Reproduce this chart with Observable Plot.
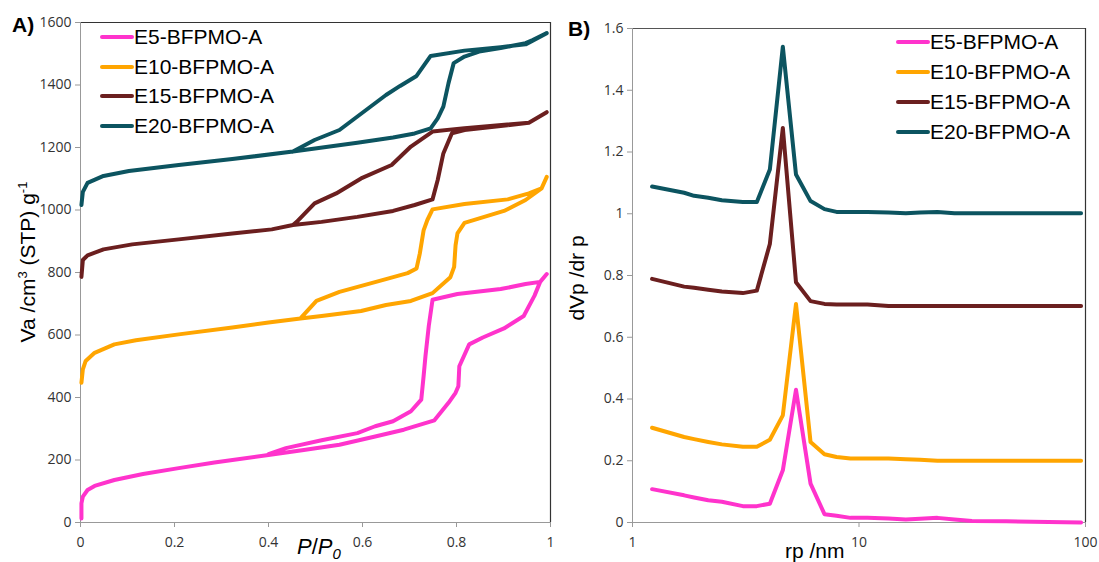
<!DOCTYPE html>
<html>
<head>
<meta charset="utf-8">
<script src="https://cdn.jsdelivr.net/npm/d3@7"></script>
<script src="https://cdn.jsdelivr.net/npm/@observablehq/plot@0.6"></script>
<style>
  body { margin: 0; background: #fff; }
  #wrap { position: relative; width: 1099px; height: 562px; overflow: hidden; font-family: "Liberation Sans", Arial, sans-serif; }
  .panel { position: absolute; top: 0; }
  .lbl { position: absolute; color: #000; white-space: nowrap; }
  .legend { position: absolute; font-size: 21px; color: #000; }
  .legend .row { position: absolute; left: 0; white-space: nowrap; height: 0; }
  .legend .sw { position: absolute; left: 0; width: 34px; height: 4px; margin-top: -2px; border-radius: 2px; }
  .legend .tx { position: absolute; left: 34px; top: -12px; line-height: 24px; }
</style>
</head>
<body>
<div id="wrap"></div>
<script>
// ---- Series names and colours ----
const seriesNames = ["E5-BFPMO-A", "E10-BFPMO-A", "E15-BFPMO-A", "E20-BFPMO-A"];
const seriesColors = ["#ff33cc", "#ffa500", "#6b1f1f", "#0c5460"];

// ---- Panel A: isotherms (path order: adsorption then desorption) ----
const e5P = [0.002,0.002,0.005,0.015,0.03,0.072,0.133,0.209,0.285,0.4,0.475,0.551,0.627,0.688,0.753,0.783,0.798,0.804,0.806,0.827,0.856,0.901,0.943,0.966,0.978,0.992,0.978,0.947,0.894,0.802,0.749,0.741,0.734,0.73,0.725,0.703,0.665,0.627,0.589,0.513,0.437,0.4];
const e5V = [13,61,83,104,117,136,155,174,192,216,232,249,275,297,327,383,415,436,500,570,592,621,661,726,770,795,770,763,747,731,713,629,533,468,393,356,324,308,286,263,238,219];

const e10P = [0.002,0.005,0.011,0.03,0.072,0.118,0.209,0.323,0.4,0.468,0.513,0.597,0.65,0.703,0.749,0.787,0.795,0.798,0.802,0.817,0.901,0.947,0.981,0.992,0.981,0.954,0.909,0.817,0.749,0.738,0.73,0.722,0.715,0.696,0.65,0.551,0.502,0.468];
const e10V = [447,490,517,543,570,583,602,624,640,653,661,677,696,709,734,785,818,887,925,959,997,1032,1069,1106,1069,1053,1034,1019,1002,968,935,861,813,798,779,738,709,653];

const e15P = [0.002,0.005,0.015,0.049,0.11,0.209,0.323,0.407,0.452,0.513,0.589,0.665,0.711,0.749,0.76,0.772,0.79,0.817,0.894,0.954,0.992,0.954,0.817,0.749,0.703,0.662,0.597,0.544,0.498,0.46,0.452];
const e15V = [786,840,855,874,890,906,925,938,952,962,978,997,1016,1034,1096,1181,1245,1256,1269,1279,1313,1279,1262,1251,1203,1144,1101,1053,1021,962,952];

const e20P = [0.002,0.005,0.015,0.049,0.103,0.209,0.323,0.452,0.589,0.665,0.711,0.745,0.76,0.772,0.783,0.794,0.817,0.848,0.894,0.947,0.962,0.992,0.947,0.894,0.817,0.745,0.715,0.68,0.65,0.551,0.498,0.452];
const e20V = [1016,1058,1087,1109,1125,1144,1163,1187,1215,1232,1245,1261,1293,1331,1406,1470,1491,1507,1518,1534,1544,1566,1530,1521,1510,1493,1429,1397,1368,1256,1224,1187];

const aXTicks = [0, 0.2, 0.4, 0.6, 0.8, 1];
const aYTicks = [0, 200, 400, 600, 800, 1000, 1200, 1400, 1600];

// ---- Panel B: pore size distributions ----
const rp = [1.22,1.69,1.87,2.16,2.48,3.07,3.54,4.04,4.61,5.27,6.11,7.04,7.96,9.17,10.9,13.5,16.1,18.6,22.2,26.4,31.5,44.6,95.6];
const e5D  = [0.108,0.088,0.081,0.072,0.067,0.053,0.053,0.061,0.169,0.43,0.126,0.027,0.022,0.015,0.015,0.013,0.01,0.012,0.015,0.01,0.005,0.004,0.0];
const e10D = [0.307,0.277,0.27,0.261,0.253,0.245,0.245,0.268,0.347,0.708,0.261,0.221,0.212,0.207,0.207,0.207,0.205,0.203,0.2,0.2,0.2,0.2,0.2];
const e15D = [0.789,0.764,0.76,0.754,0.748,0.743,0.751,0.902,1.278,0.778,0.717,0.708,0.706,0.706,0.706,0.701,0.701,0.701,0.701,0.701,0.701,0.701,0.701];
const e20D = [1.088,1.068,1.058,1.052,1.044,1.038,1.038,1.143,1.541,1.127,1.041,1.015,1.006,1.006,1.006,1.004,1.002,1.004,1.006,1.002,1.002,1.002,1.002];

const bXTicks = [1, 10, 100];
const bYTicks = [0, 0.2, 0.4, 0.6, 0.8, 1, 1.2, 1.4, 1.6];

// ---- Build tables ----
const isoRows = [];
[[e5P, e5V], [e10P, e10V], [e15P, e15V], [e20P, e20V]].forEach(([ps, vs], k) => {
  ps.forEach((p, i) => isoRows.push({series: seriesNames[k], p, v: vs[i]}));
});
const psdRows = [];
[e5D, e10D, e15D, e20D].forEach((ds, k) => {
  ds.forEach((d, i) => psdRows.push({series: seriesNames[k], r: rp[i], d}));
});

const tickStyle = {fontFamily: "'Open Sans', sans-serif", fontSize: "14px", color: "#333", background: "transparent", overflow: "visible"};
const colorScale = {domain: seriesNames, range: seriesColors};

const wrap = document.getElementById("wrap");

// Panel A
const plotA = Plot.plot({
  width: 560, height: 562,
  marginLeft: 80, marginRight: 10, marginTop: 22, marginBottom: 40,
  x: {domain: [0, 1]},
  y: {domain: [0, 1600]},
  color: colorScale,
  style: tickStyle,
  marks: [
    Plot.ruleY([1600], {stroke: "#333", strokeWidth: 1.2}),
    Plot.ruleX([1], {stroke: "#333", strokeWidth: 1.2}),
    Plot.ruleX([0], {stroke: "#999"}),
    Plot.ruleY([0], {stroke: "#999"}),
    Plot.axisX({ticks: aXTicks, tickFormat: d => String(d), tickSize: 5, tickPadding: 10, stroke: "#999", label: null}),
    Plot.axisY({ticks: aYTicks, tickFormat: d => String(d), tickSize: 5, tickPadding: 4, stroke: "#999", label: null}),
    Plot.line(isoRows, {x: "p", y: "v", z: "series", stroke: "series", strokeWidth: 4, strokeLinejoin: "round", strokeLinecap: "round"})
  ]
});
plotA.classList.add("panel");
plotA.style.left = "0px";
wrap.appendChild(plotA);

// Panel B
const plotB = Plot.plot({
  width: 539, height: 562,
  marginLeft: 72, marginRight: 14, marginTop: 28, marginBottom: 40,
  x: {type: "log", domain: [1, 100]},
  y: {domain: [0, 1.6]},
  color: colorScale,
  style: tickStyle,
  marks: [
    Plot.ruleY([1.6], {stroke: "#555", strokeWidth: 1.2}),
    Plot.ruleX([100], {stroke: "#333", strokeWidth: 1.2}),
    Plot.ruleX([1], {stroke: "#999"}),
    Plot.ruleY([0], {stroke: "#999"}),
    Plot.axisX({ticks: bXTicks, tickFormat: d => String(d), tickSize: 5, tickPadding: 10, stroke: "#999", label: null}),
    Plot.axisY({ticks: bYTicks, tickFormat: d => String(d), tickSize: 5, tickPadding: 4, stroke: "#999", label: null}),
    Plot.line(psdRows, {x: "r", y: "d", z: "series", stroke: "series", strokeWidth: 4, strokeLinejoin: "round", strokeLinecap: "round"})
  ]
});
plotB.classList.add("panel");
plotB.style.left = "560px";
wrap.appendChild(plotB);

// Labels
function addLabel(html, css) {
  const d = document.createElement("div");
  d.className = "lbl";
  d.innerHTML = html;
  Object.assign(d.style, css);
  wrap.appendChild(d);
  return d;
}
addLabel("A)", {left: "12px", top: "13px", fontSize: "21px", fontWeight: "bold"});
addLabel("B)", {left: "568px", top: "17px", fontSize: "21px", fontWeight: "bold"});
addLabel("Va /cm<sup style='font-size:13px'>3</sup> (STP) g<sup style='font-size:13px'>-1</sup>",
  {left: "27px", top: "262px", fontSize: "21px", transform: "translate(-50%,-50%) rotate(-90deg)"});
addLabel("dVp /dr p",
  {left: "577px", top: "278px", fontSize: "21px", transform: "translate(-50%,-50%) rotate(-90deg)"});
addLabel("<i>P</i>/<i>P</i><sub style='font-size:15px;font-style:italic'>0</sub>",
  {left: "297px", top: "534px", fontSize: "22px"});
addLabel("rp /nm", {left: "785px", top: "539px", fontSize: "21px"});

// Legends
function addLegend(left, top, step) {
  const lg = document.createElement("div");
  lg.className = "legend";
  lg.style.left = left + "px";
  lg.style.top = top + "px";
  seriesNames.forEach((name, i) => {
    const row = document.createElement("div");
    row.className = "row";
    row.style.top = (i * step) + "px";
    row.innerHTML = `<div class="sw" style="background:${seriesColors[i]}"></div><div class="tx">${name}</div>`;
    lg.appendChild(row);
  });
  wrap.appendChild(lg);
}
addLegend(100, 37, 29.7);
addLegend(896, 42, 30);
</script>
</body>
</html>
